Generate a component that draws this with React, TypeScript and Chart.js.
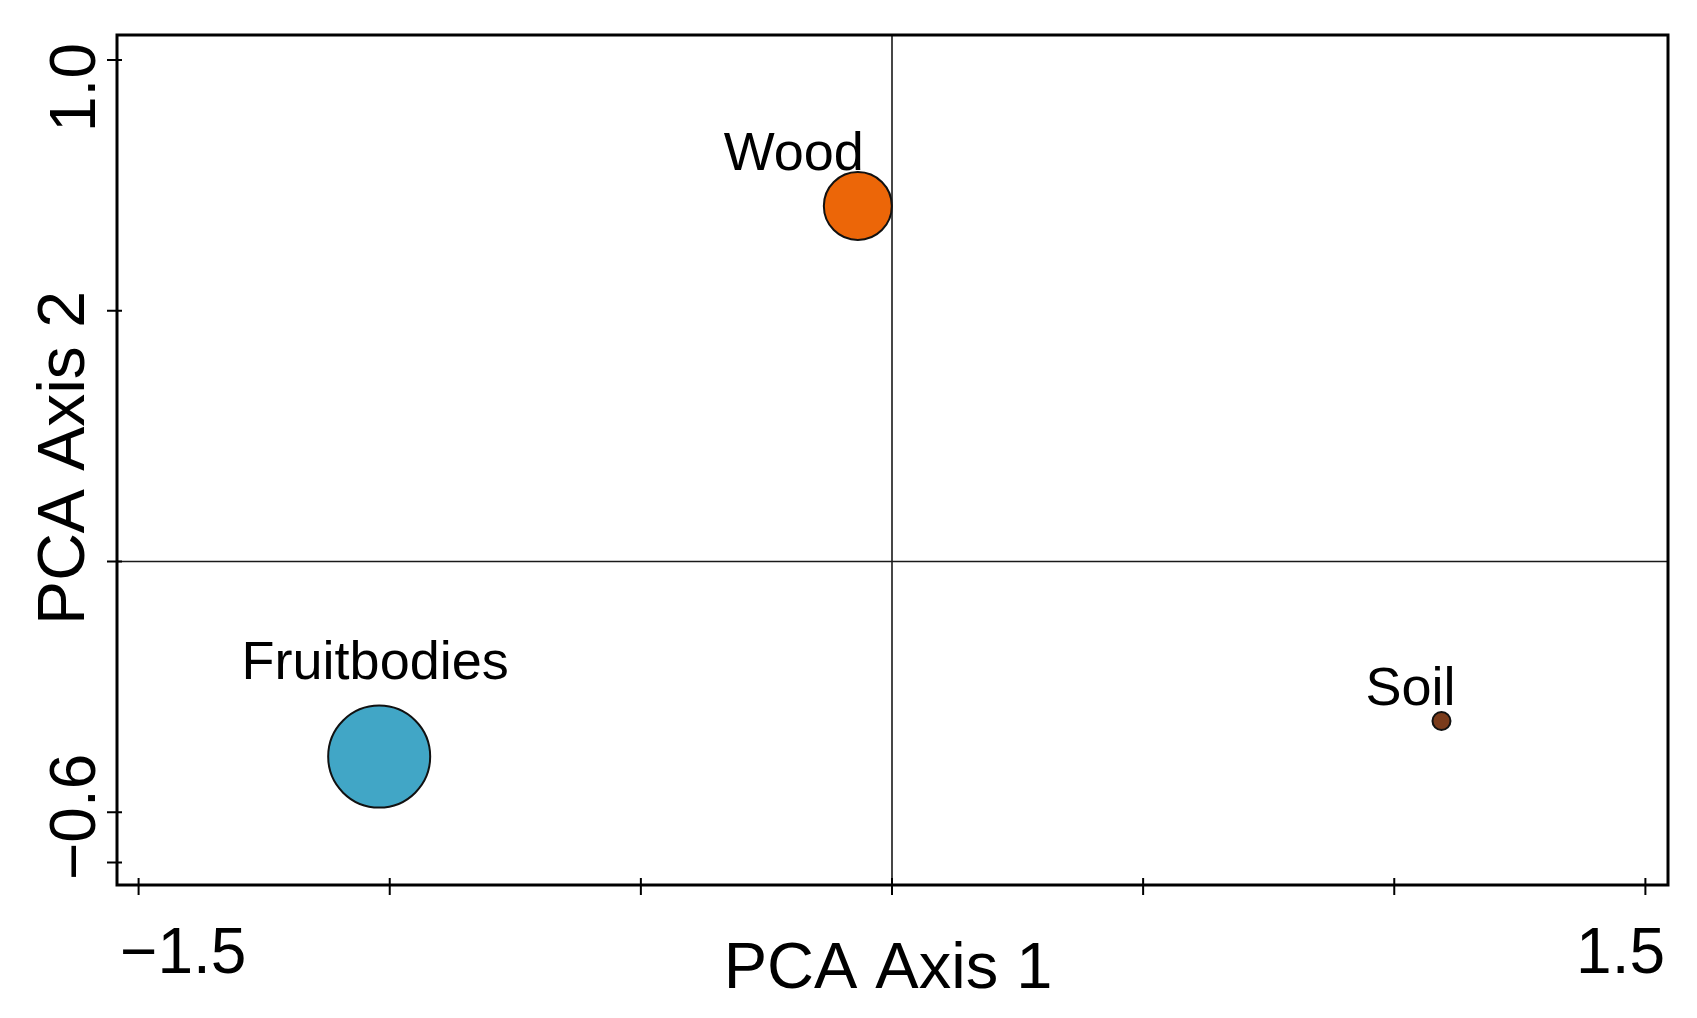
import React, { useEffect, useRef } from "react";
import { Chart, registerables } from "chart.js";

Chart.register(...registerables);

// ---- data ----
const sampleNames = ["Wood", "Fruitbodies", "Soil"];
const axis1Scores = [-0.068, -1.021, 1.094];
const axis2Scores = [0.709, -0.389, -0.318];
const pointColors = ["#EC6608", "#41A6C6", "#7A3B1B"];
const pointRadii = [34, 51, 9];
const xTickValues = [-1.5, -1, -0.5, 0, 0.5, 1, 1.5];
const yTickValues = [1.0, 0.5, 0, -0.5, -0.6];
const xEndLabels = ["\u22121.5", "1.5"];
const yEndLabels = ["\u22120.6", "1.0"];
const xTitle = "PCA Axis 1";
const yTitle = "PCA Axis 2";

// ---- label offsets (pixels, relative to point centre) ----
const labelOffsets: [number, number][] = [
  [-64, -36],
  [-4, -78],
  [-31, -16],
];

const FONT = "'Liberation Sans', Arial, Helvetica, sans-serif";

const pcaPlugin = {
  id: "pcaDecor",
  beforeDatasetsDraw(chart: any) {
    const { ctx, chartArea: a, scales } = chart;
    const x0 = scales.x.getPixelForValue(0);
    const y0 = scales.y.getPixelForValue(0);
    ctx.save();
    ctx.strokeStyle = "#1a1a1a";
    ctx.lineWidth = 1.6;
    ctx.beginPath();
    ctx.moveTo(x0, a.top);
    ctx.lineTo(x0, a.bottom);
    ctx.moveTo(a.left, y0);
    ctx.lineTo(a.right, y0);
    ctx.stroke();
    ctx.restore();
  },
  afterDatasetsDraw(chart: any) {
    const { ctx, chartArea: a, scales } = chart;
    ctx.save();
    // frame
    ctx.strokeStyle = "#000";
    ctx.lineWidth = 3;
    ctx.strokeRect(a.left, a.top, a.right - a.left, a.bottom - a.top);
    // tick marks
    ctx.lineWidth = 2;
    ctx.beginPath();
    scales.x.ticks.forEach((t: any) => {
      const px = scales.x.getPixelForValue(t.value);
      ctx.moveTo(px, a.bottom - 7);
      ctx.lineTo(px, a.bottom + 10);
    });
    scales.y.ticks.forEach((t: any) => {
      const py = scales.y.getPixelForValue(t.value);
      ctx.moveTo(a.left - 10, py);
      ctx.lineTo(a.left + 5, py);
    });
    ctx.stroke();

    // point labels
    ctx.fillStyle = "#000";
    ctx.font = `54px ${FONT}`;
    ctx.textAlign = "center";
    ctx.textBaseline = "alphabetic";
    const meta = chart.getDatasetMeta(0);
    meta.data.forEach((pt: any, i: number) => {
      const [dx, dy] = labelOffsets[i];
      ctx.fillText(sampleNames[i], pt.x + dx, pt.y + dy);
    });

    // x tick labels at the axis ends
    ctx.font = `64px ${FONT}`;
    ctx.textAlign = "left";
    ctx.fillText(xEndLabels[0], a.left + 3, 973);
    ctx.textAlign = "right";
    ctx.fillText(xEndLabels[1], a.right - 3, 973);

    // y tick labels (rotated)
    ctx.save();
    ctx.translate(95, 0);
    ctx.rotate(-Math.PI / 2);
    ctx.textAlign = "left";
    ctx.fillText(yEndLabels[0], -(a.bottom - 5), 0);
    ctx.textAlign = "right";
    ctx.fillText(yEndLabels[1], -(a.top + 8), 0);
    ctx.restore();

    // axis titles
    ctx.font = `65px ${FONT}`;
    ctx.textAlign = "center";
    ctx.fillText(xTitle, 888, 988);
    ctx.save();
    ctx.translate(84, 458);
    ctx.rotate(-Math.PI / 2);
    ctx.font = `66px ${FONT}`;
    ctx.fillText(yTitle, 0, 0);
    ctx.restore();

    ctx.restore();
  },
};

export default function App() {
  const canvasRef = useRef<HTMLCanvasElement | null>(null);

  useEffect(() => {
    const canvas = canvasRef.current;
    if (!canvas) return;
    const chart = new Chart(canvas, {
      type: "scatter",
      data: {
        datasets: [
          {
            label: "samples",
            data: axis1Scores.map((x, i) => ({ x, y: axis2Scores[i] })),
            backgroundColor: pointColors,
            borderColor: "#111",
            borderWidth: 2,
            pointRadius: pointRadii,
            pointHoverRadius: pointRadii,
          },
        ],
      },
      options: {
        animation: false,
        responsive: false,
        devicePixelRatio: 1,
        events: [],
        layout: { autoPadding: false, padding: { left: 0, top: 35, right: 29, bottom: 0 } },
        plugins: {
          legend: { display: false },
          tooltip: { enabled: false },
        },
        scales: {
          x: {
            type: "linear",
            min: -1.543,
            max: 1.545,
            grid: { display: false },
            border: { display: false },
            ticks: { display: false },
            afterBuildTicks: (s: any) => {
              s.ticks = xTickValues.map((v) => ({ value: v }));
            },
            afterFit: (s: any) => {
              s.height = 133;
            },
          },
          y: {
            type: "linear",
            min: -0.645,
            max: 1.05,
            grid: { display: false },
            border: { display: false },
            ticks: { display: false },
            afterBuildTicks: (s: any) => {
              s.ticks = yTickValues.map((v) => ({ value: v }));
            },
            afterFit: (s: any) => {
              s.width = 117;
            },
          },
        },
      },
      plugins: [pcaPlugin],
    });
    return () => chart.destroy();
  }, []);

  return (
    <div style={{ position: "fixed", left: 0, top: 0, width: 1697, height: 1018, background: "#fff" }}>
      <canvas ref={canvasRef} width={1697} height={1018} style={{ display: "block" }} />
    </div>
  );
}
